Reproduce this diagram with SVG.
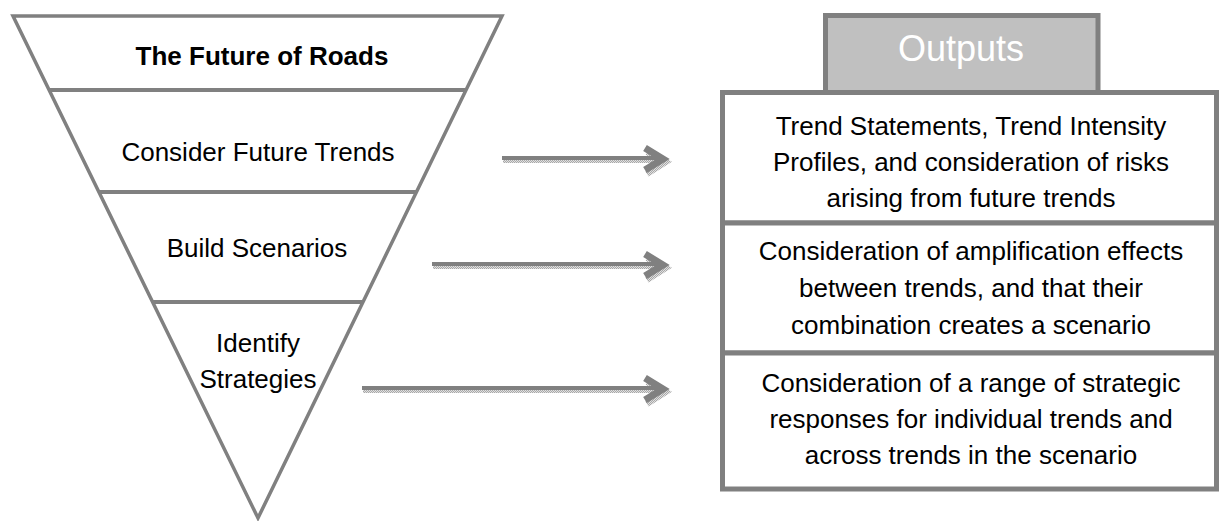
<svg xmlns="http://www.w3.org/2000/svg" width="1221" height="521" viewBox="0 0 1221 521">
<defs>
<style>
.t{font-family:"Liberation Sans",Arial,sans-serif;font-size:26px;fill:#000;text-anchor:middle}
.b{font-weight:bold}
.ln{stroke:#808080;stroke-width:4;fill:none}
.box{fill:#fff;stroke:#808080;stroke-width:5}
.shaft{stroke:#808080;stroke-width:4;fill:none}
.head{stroke:#808080;stroke-width:7;fill:none;stroke-linejoin:miter}
.sh{stroke:url(#dots);stroke-width:3;fill:none}
.shh{stroke:url(#dots);stroke-width:6;fill:none}
</style>
<pattern id="dots" width="2" height="2" patternUnits="userSpaceOnUse">
<rect width="2" height="2" fill="#e0e0e0"/>
<rect width="1" height="1" fill="#a8a8a8"/>
<rect x="1" y="1" width="1" height="1" fill="#a8a8a8"/>
</pattern>
</defs>
<rect width="1221" height="521" fill="#fff"/>
<g id="funnel">
<polygon class="ln" points="13,16 502,16 258,518" style="stroke-width:3.5;stroke-linejoin:miter"/>
<line class="ln" x1="49" y1="90" x2="466" y2="90"/>
<line class="ln" x1="99" y1="192" x2="416" y2="192"/>
<line class="ln" x1="152.5" y1="302" x2="362.5" y2="302"/>
</g>
<g id="future-of-roads"><text class="t b" x="262" y="65">The Future of Roads</text></g>
<g id="consider-future-trends"><text class="t" x="258" y="161">Consider Future Trends</text></g>
<g id="build-scenarios"><text class="t" x="257" y="257">Build Scenarios</text></g>
<g id="identify-strategies"><text class="t" x="258" y="352">Identify</text><text class="t" x="258" y="388">Strategies</text></g>
<g id="outputs-tab">
<rect x="825.5" y="15.5" width="272.5" height="78" fill="#c0c0c0" stroke="#808080" stroke-width="5"/>
<text class="t" x="961" y="61" style="font-size:36px;fill:#fff">Outputs</text>
</g>
<g id="output-1">
<rect class="box" x="722.5" y="92.5" width="494" height="130.5"/>
<text class="t" x="971" y="135">Trend Statements, Trend Intensity</text>
<text class="t" x="971" y="171">Profiles, and consideration of risks</text>
<text class="t" x="971" y="207">arising from future trends</text>
</g>
<g id="output-2">
<rect class="box" x="722.5" y="223" width="494" height="130"/>
<text class="t" x="971" y="260">Consideration of amplification effects</text>
<text class="t" x="971" y="297">between trends, and that their</text>
<text class="t" x="971" y="334">combination creates a scenario</text>
</g>
<g id="output-3">
<rect class="box" x="722.5" y="353" width="494" height="136"/>
<text class="t" x="971" y="392">Consideration of a range of strategic</text>
<text class="t" x="971" y="428">responses for individual trends and</text>
<text class="t" x="971" y="464">across trends in the scenario</text>
</g>
<g id="connectors">
<g id="arrow-1">
<line class="sh" x1="503" y1="161.5" x2="660" y2="161.5"/>
<polyline class="shh" points="647,152 666,162 647,174"/>
<line class="shaft" x1="502" y1="158" x2="660" y2="158"/>
<polyline class="head" points="645,148 663,159 645,170"/>
</g>
<g id="arrow-2">
<line class="sh" x1="433" y1="267.5" x2="660" y2="267.5"/>
<polyline class="shh" points="647,258 666,268 647,280"/>
<line class="shaft" x1="432" y1="264" x2="660" y2="264"/>
<polyline class="head" points="645,254 663,265 645,276"/>
</g>
<g id="arrow-3">
<line class="sh" x1="363" y1="391.5" x2="660" y2="391.5"/>
<polyline class="shh" points="647,382 666,392 647,404"/>
<line class="shaft" x1="362" y1="388" x2="660" y2="388"/>
<polyline class="head" points="645,378 663,389 645,400"/>
</g>
</g>
</svg>
